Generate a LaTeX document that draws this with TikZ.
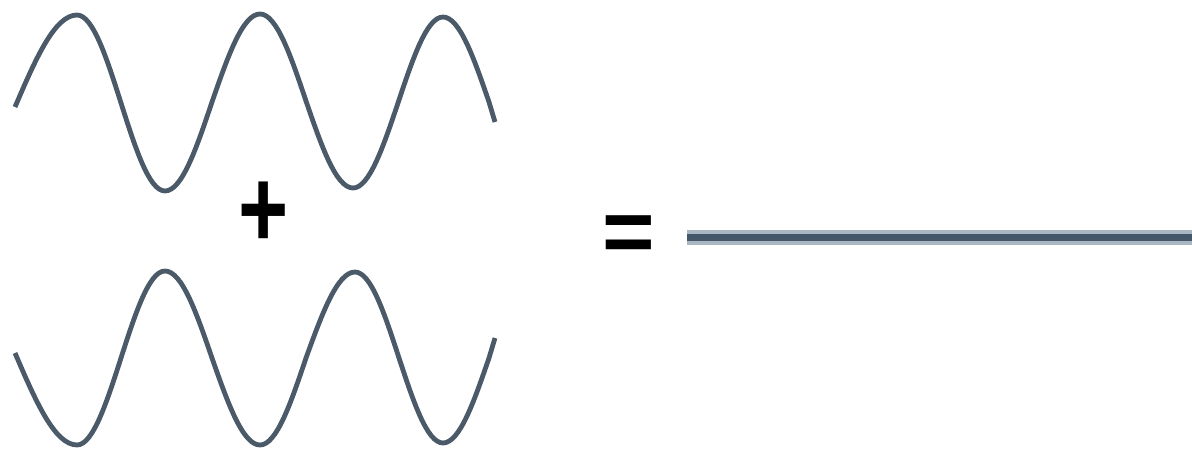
\documentclass[tikz,border=0pt]{standalone}
\usepackage{fontspec}
\newfontfamily\symfont{Liberation Sans}
\definecolor{wavecol}{HTML}{4B5A68}
\definecolor{linecore}{HTML}{44586A}
\definecolor{linehalo}{HTML}{A9B7C3}
\begin{document}
\begin{tikzpicture}[x=1pt,y=-1pt,
  wave/.style={draw=wavecol,line width=4.8pt,line join=round},
  symb/.style={inner sep=0pt,outer sep=0pt,text=black,font=\symfont\bfseries}]
\useasboundingbox (0,0) rectangle (1192,452);
% top wave
\draw[wave] (15,107) sin (77,15) cos (121,103) sin (165,191) cos (212,102)
  sin (260,14) cos (306,101) sin (353,188) cos (398,103) sin (443,17)
  cos (489,102) -- (495,122);
% bottom wave
\draw[wave] (15,353) sin (77,445) cos (121,358) sin (165,271) cos (212,358)
  sin (260,445) cos (306,358) sin (355,272) cos (399,358) sin (443,443)
  cos (489,358) -- (495,338);
% plus
\node[symb,xscale=1,yscale=1.3] (plus) at (264,215) {\fontsize{86}{86}\selectfont +};
% equals
\node[symb] (eq) at (629,239) {\fontsize{90}{90}\selectfont =};
% flat line
\coordinate (ls) at (687,237);
\coordinate (le) at (1192,237);
\draw[linehalo,line width=15pt] (ls) -- (le);
\draw[linecore,line width=7pt] (ls) -- (le);
\end{tikzpicture}
\end{document}
